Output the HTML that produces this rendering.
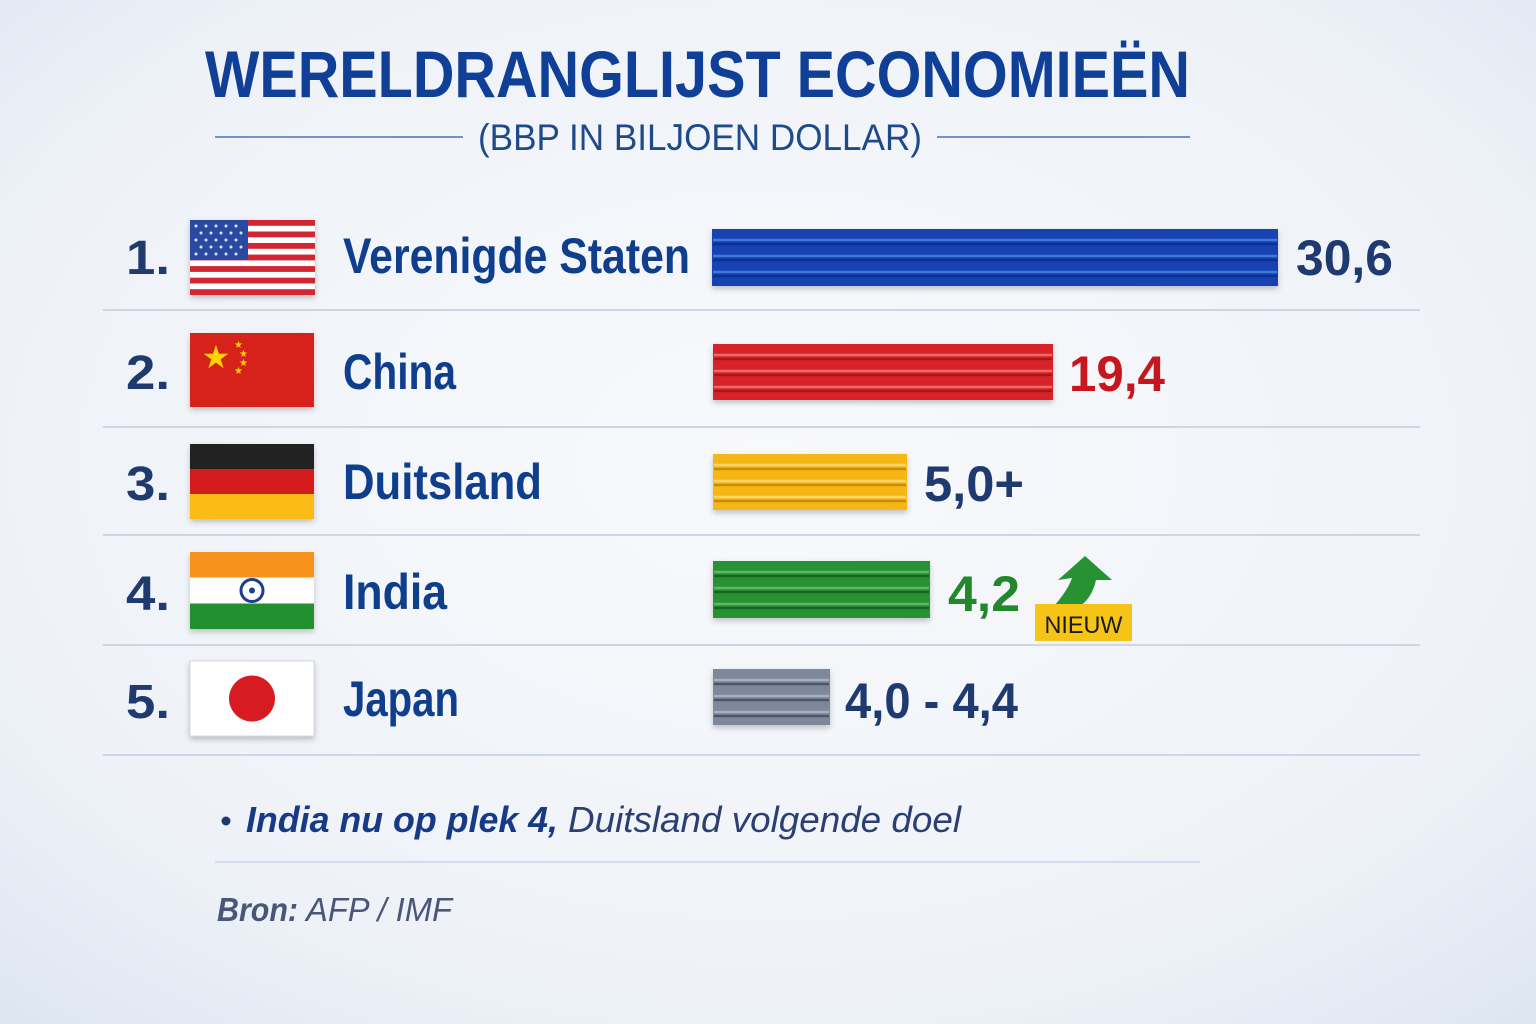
<!DOCTYPE html>
<html><head><meta charset="utf-8"><style>
html,body{margin:0;padding:0;width:1536px;height:1024px;overflow:hidden;background:#eef2f8}
svg{display:block}
text{font-family:"Liberation Sans",sans-serif}
</style></head><body>
<svg width="1536" height="1024" viewBox="0 0 1536 1024" xmlns="http://www.w3.org/2000/svg">
<defs>
<radialGradient id="bg" cx="50%" cy="45%" r="75%">
<stop offset="0" stop-color="#f8f9fc"/><stop offset="0.7" stop-color="#eef2f8"/><stop offset="1" stop-color="#dde5f1"/>
</radialGradient>
<filter id="sh" x="-10%" y="-20%" width="120%" height="150%"><feDropShadow dx="0" dy="3" stdDeviation="3" flood-color="#000" flood-opacity="0.22"/></filter>
</defs>
<rect width="1536" height="1024" fill="url(#bg)"/>
<text x="205" y="97" font-size="66" font-weight="bold" fill="#0f3f96" textLength="985" lengthAdjust="spacingAndGlyphs">WERELDRANGLIJST ECONOMIEËN</text>
<line x1="215" y1="137" x2="463" y2="137" stroke="#4a72b8" stroke-width="1.5"/>
<line x1="937" y1="137" x2="1190" y2="137" stroke="#4a72b8" stroke-width="1.5"/>
<text x="478" y="150" font-size="37" fill="#1e4a8a" textLength="444" lengthAdjust="spacingAndGlyphs">(BBP IN BILJOEN DOLLAR)</text>

<g stroke="#cdd5e6" stroke-width="2">
<line x1="103" y1="310" x2="1420" y2="310"/><line x1="103" y1="427" x2="1420" y2="427"/>
<line x1="103" y1="535" x2="1420" y2="535"/><line x1="103" y1="645" x2="1420" y2="645"/>
<line x1="103" y1="755" x2="1420" y2="755"/>
</g>

<g font-size="48" font-weight="bold" fill="#1f3a6e">
<text x="126" y="274" textLength="44" lengthAdjust="spacingAndGlyphs">1.</text>
<text x="126" y="389" textLength="44" lengthAdjust="spacingAndGlyphs">2.</text>
<text x="126" y="500" textLength="44" lengthAdjust="spacingAndGlyphs">3.</text>
<text x="126" y="610" textLength="44" lengthAdjust="spacingAndGlyphs">4.</text>
<text x="126" y="718" textLength="44" lengthAdjust="spacingAndGlyphs">5.</text>
</g>

<!-- flags -->
<g filter="url(#sh)">
<g>
<rect x="190" y="220" width="125" height="75" fill="#fff"/>
<g fill="#d22730">
<rect x="190" y="220" width="125" height="5.8"/><rect x="190" y="231.5" width="125" height="5.8"/><rect x="190" y="243" width="125" height="5.8"/><rect x="190" y="254.6" width="125" height="5.8"/><rect x="190" y="266.1" width="125" height="5.8"/><rect x="190" y="277.7" width="125" height="5.8"/><rect x="190" y="289.2" width="125" height="5.8"/>
</g>
<rect x="190" y="220" width="58" height="40" fill="#2b4aa0"/>
<g fill="#fff" opacity="0.85">
<circle cx="196" cy="226" r="1.5"/><circle cx="206" cy="226" r="1.5"/><circle cx="216" cy="226" r="1.5"/><circle cx="226" cy="226" r="1.5"/><circle cx="236" cy="226" r="1.5"/>
<circle cx="201" cy="233" r="1.5"/><circle cx="211" cy="233" r="1.5"/><circle cx="221" cy="233" r="1.5"/><circle cx="231" cy="233" r="1.5"/><circle cx="241" cy="233" r="1.5"/>
<circle cx="196" cy="240" r="1.5"/><circle cx="206" cy="240" r="1.5"/><circle cx="216" cy="240" r="1.5"/><circle cx="226" cy="240" r="1.5"/><circle cx="236" cy="240" r="1.5"/>
<circle cx="201" cy="247" r="1.5"/><circle cx="211" cy="247" r="1.5"/><circle cx="221" cy="247" r="1.5"/><circle cx="231" cy="247" r="1.5"/><circle cx="241" cy="247" r="1.5"/>
<circle cx="196" cy="254" r="1.5"/><circle cx="206" cy="254" r="1.5"/><circle cx="216" cy="254" r="1.5"/><circle cx="226" cy="254" r="1.5"/><circle cx="236" cy="254" r="1.5"/>
</g>
</g>
<g>
<rect x="190" y="333" width="124" height="74" fill="#d7201f"/>
<text x="216" y="368" font-size="32" fill="#ffd400" text-anchor="middle">★</text>
<text x="234" y="348" font-size="10" fill="#ffd400">★</text><text x="239" y="357" font-size="10" fill="#ffd400">★</text>
<text x="239" y="366" font-size="10" fill="#ffd400">★</text><text x="234" y="374" font-size="10" fill="#ffd400">★</text>
</g>
<g>
<rect x="190" y="444" width="124" height="25" fill="#222"/>
<rect x="190" y="469" width="124" height="25" fill="#d41e1e"/>
<rect x="190" y="494" width="124" height="25" fill="#fbbc12"/>
</g>
<g>
<rect x="190" y="552" width="124" height="25.5" fill="#f7921e"/>
<rect x="190" y="577.5" width="124" height="26" fill="#fff"/>
<rect x="190" y="603.5" width="124" height="25.5" fill="#23902f"/>
<circle cx="252" cy="590.5" r="11" fill="none" stroke="#1b3f8f" stroke-width="3"/>
<circle cx="252" cy="590.5" r="3" fill="#1b3f8f"/>
</g>
<g>
<rect x="190" y="661" width="124" height="75" fill="#fff" stroke="#d5d8e0"/>
<circle cx="252" cy="698.5" r="23" fill="#d61b22"/>
</g>
</g>

<g font-size="50" font-weight="bold" fill="#0f3f8c">
<text x="343" y="273" textLength="347" lengthAdjust="spacingAndGlyphs">Verenigde Staten</text>
<text x="343" y="389" textLength="113" lengthAdjust="spacingAndGlyphs">China</text>
<text x="343" y="499" textLength="199" lengthAdjust="spacingAndGlyphs">Duitsland</text>
<text x="343" y="609" textLength="104" lengthAdjust="spacingAndGlyphs">India</text>
<text x="343" y="716" textLength="116" lengthAdjust="spacingAndGlyphs">Japan</text>
</g>

<!-- bars -->
<g filter="url(#sh)">
<rect x="712" y="229" width="566" height="57" fill="#1443b4"/>
<rect x="713" y="344" width="340" height="56" fill="#d8242a"/>
<rect x="713" y="454" width="194" height="56" fill="#f6b718"/>
<rect x="713" y="561" width="217" height="57" fill="#279232"/>
<rect x="713" y="669" width="117" height="56" fill="#7d889c"/>
</g>
<g stroke-width="2.5">
<g stroke="#0c318a"><line x1="713" y1="244" x2="1277" y2="244"/><line x1="713" y1="260" x2="1277" y2="260"/><line x1="713" y1="276" x2="1277" y2="276"/></g>
<g stroke="#3f78d8"><line x1="713" y1="240" x2="1277" y2="240"/><line x1="713" y1="256" x2="1277" y2="256"/><line x1="713" y1="272" x2="1277" y2="272"/></g>
<g stroke="#a8161c"><line x1="714" y1="359" x2="1052" y2="359"/><line x1="714" y1="375" x2="1052" y2="375"/><line x1="714" y1="391" x2="1052" y2="391"/></g>
<g stroke="#ee6a6a"><line x1="714" y1="355" x2="1052" y2="355"/><line x1="714" y1="371" x2="1052" y2="371"/><line x1="714" y1="387" x2="1052" y2="387"/></g>
<g stroke="#c98a08"><line x1="714" y1="469" x2="906" y2="469"/><line x1="714" y1="485" x2="906" y2="485"/><line x1="714" y1="501" x2="906" y2="501"/></g>
<g stroke="#fbd56a"><line x1="714" y1="465" x2="906" y2="465"/><line x1="714" y1="481" x2="906" y2="481"/><line x1="714" y1="497" x2="906" y2="497"/></g>
<g stroke="#17661f"><line x1="714" y1="576" x2="929" y2="576"/><line x1="714" y1="592" x2="929" y2="592"/><line x1="714" y1="608" x2="929" y2="608"/></g>
<g stroke="#5cb765"><line x1="714" y1="572" x2="929" y2="572"/><line x1="714" y1="588" x2="929" y2="588"/><line x1="714" y1="604" x2="929" y2="604"/></g>
<g stroke="#4d5668"><line x1="714" y1="684" x2="829" y2="684"/><line x1="714" y1="700" x2="829" y2="700"/><line x1="714" y1="716" x2="829" y2="716"/></g>
<g stroke="#a6afbf"><line x1="714" y1="680" x2="829" y2="680"/><line x1="714" y1="696" x2="829" y2="696"/><line x1="714" y1="712" x2="829" y2="712"/></g>
</g>

<g font-size="50" font-weight="bold">
<text x="1296" y="275" fill="#1f3a6e" textLength="97" lengthAdjust="spacingAndGlyphs">30,6</text>
<text x="1069" y="391" fill="#c8161e" textLength="96" lengthAdjust="spacingAndGlyphs">19,4</text>
<text x="924" y="501" fill="#1f3a6e" textLength="100" lengthAdjust="spacingAndGlyphs">5,0+</text>
<text x="948" y="611" fill="#23882c" textLength="72" lengthAdjust="spacingAndGlyphs">4,2</text>
<text x="845" y="718" fill="#1f3a6e" textLength="173" lengthAdjust="spacingAndGlyphs">4,0 - 4,4</text>
</g>

<!-- arrow + badge -->
<path d="M1054 606 Q1068 590 1072 578 L1058 580 L1085 556 L1112 580 L1096 580 Q1092 598 1080 606 Z" fill="#279232"/>
<rect x="1035" y="604" width="97" height="37" fill="#f6c417"/>
<text x="1083.5" y="633" font-size="24" fill="#1a1a1a" text-anchor="middle" textLength="78" lengthAdjust="spacingAndGlyphs">NIEUW</text>

<!-- footer -->
<circle cx="226" cy="821" r="4.5" fill="#1f3a6e"/>
<text x="246" y="832" font-size="36" font-style="italic" fill="#173a86"><tspan font-weight="bold" textLength="312" lengthAdjust="spacingAndGlyphs">India nu op plek 4,</tspan><tspan dx="10" fill="#2b3f73" textLength="393" lengthAdjust="spacingAndGlyphs">Duitsland volgende doel</tspan></text>
<line x1="215" y1="862" x2="1200" y2="862" stroke="#d3dcec" stroke-width="2"/>
<text x="217" y="921" font-size="33" font-style="italic" fill="#4a5678"><tspan font-weight="bold" textLength="81" lengthAdjust="spacingAndGlyphs">Bron:</tspan><tspan dx="8" textLength="146" lengthAdjust="spacingAndGlyphs">AFP / IMF</tspan></text>
</svg>
</body></html>
